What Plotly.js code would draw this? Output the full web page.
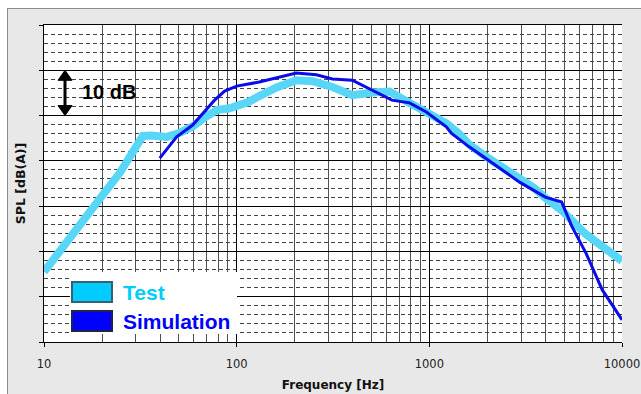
<!DOCTYPE html>
<html>
<head>
<meta charset="utf-8">
<script src="https://cdn.plot.ly/plotly-3.0.1.min.js"></script>
<style>
  html, body { margin: 0; padding: 0; background: #ffffff; }
  #frame { position: absolute; left: 7px; top: 8px; right: 0; bottom: 0;
           background: #e8e8e8; border-left: 1px solid #8c8c8c; border-top: 1px solid #8c8c8c; }
  #chart { position: absolute; left: 0; top: 0; width: 641px; height: 394px; }
</style>
</head>
<body>
<div id="frame"></div>
<div id="chart"></div>
<script>
// ---- data ----
const seriesNames = ['Test', 'Simulation'];

const testFreq = [10, 12.5, 16.7, 20.2, 24.7, 29.6, 32.6, 36, 43.4, 50, 59, 68, 78.7, 92, 100, 115, 131, 161, 204, 248, 314, 398, 507, 621, 758, 965, 1225, 1425, 1610, 1960, 2450, 2940, 3500, 4000, 4860, 6490, 8260, 10000];
const testSPL  = [15.5, 21, 28.5, 32.5, 37.3, 43, 45.5, 45.6, 45.3, 46.1, 47.6, 49.5, 51.2, 51.6, 52, 53, 54.3, 56.2, 57.8, 57.6, 56.3, 54.5, 55.1, 55.3, 53.2, 50.6, 48.3, 46.0, 43.6, 41.0, 38.3, 35.8, 34.0, 31.8, 29.1, 23.8, 20.3, 17.9];

const simFreq = [39.9, 48.8, 59.1, 68.2, 76.8, 86.6, 100, 131, 167, 204, 259, 314, 398, 507, 639, 790, 965, 1225, 1300, 1610, 1960, 2940, 4000, 4860, 5510, 6490, 7900, 10000];
const simSPL  = [40.6, 45.3, 47.9, 50.8, 53.4, 55.4, 56.5, 57.4, 58.5, 59.4, 59.0, 58.1, 57.8, 55.6, 53.4, 52.8, 50.8, 47.5, 46.1, 43.1, 40.6, 35.3, 32.0, 30.9, 25.4, 19.7, 11.5, 4.9];

const xTickVals = [10, 100, 1000, 10000];
const xTickText = ['10', '100', '1000', '10000'];
const xMinorVals = [];
[10, 100, 1000].forEach(d => { for (let k = 2; k <= 9; k++) xMinorVals.push(d * k); });

const xTitle = 'Frequency [Hz]';
const yTitle = 'SPL [dB(A)]';
const scaleLabel = '10 dB';
const scaleFrom = 50, scaleTo = 60;

// ---- geometry helpers (pixels -> paper) ----
const W = 641, H = 394, mL = 44, mR = 19, mT = 25, mB = 52;
const pw = W - mL - mR, ph = H - mT - mB;
const px = x => (x - mL) / pw;
const py = y => (H - mB - y) / ph;

const traces = [
  { x: testFreq, y: testSPL, name: seriesNames[0], type: 'scatter', mode: 'lines',
    line: { color: '#58d6f7', width: 8 } },
  { x: simFreq, y: simSPL, name: seriesNames[1], type: 'scatter', mode: 'lines',
    line: { color: '#0c0ce8', width: 3 } }
];

const ax = 65;           // arrow x in px
const headW = 7, headL = 10; // px
const dbPerPx = 70 / ph;
const shapes = [
  { type: 'line', xref: 'paper', yref: 'y', x0: px(ax), x1: px(ax),
    y0: scaleFrom + headL * dbPerPx * 0.8, y1: scaleTo - headL * dbPerPx * 0.8,
    line: { color: '#000', width: 3 }, layer: 'above' },
  { type: 'path', xref: 'paper', yref: 'y', layer: 'above', fillcolor: '#000', line: { color: '#000', width: 1 },
    path: `M ${px(ax - headW)},${scaleTo - headL * dbPerPx} L ${px(ax)},${scaleTo} L ${px(ax + headW)},${scaleTo - headL * dbPerPx} Z` },
  { type: 'path', xref: 'paper', yref: 'y', layer: 'above', fillcolor: '#000', line: { color: '#000', width: 1 },
    path: `M ${px(ax - headW)},${scaleFrom + headL * dbPerPx} L ${px(ax)},${scaleFrom} L ${px(ax + headW)},${scaleFrom + headL * dbPerPx} Z` },
  { type: 'rect', xref: 'paper', yref: 'paper', x0: px(70), x1: px(237), y0: py(334), y1: py(272),
    fillcolor: '#ffffff', line: { width: 0 }, layer: 'above' },
  { type: 'rect', xref: 'paper', yref: 'paper', x0: px(72), x1: px(112), y0: py(302), y1: py(282),
    fillcolor: '#00ccff', line: { color: '#3a6070', width: 2 }, layer: 'above' },
  { type: 'rect', xref: 'paper', yref: 'paper', x0: px(72), x1: px(112), y0: py(331), y1: py(311),
    fillcolor: '#0000ff', line: { color: '#22224a', width: 2 }, layer: 'above' }
];

const legendFont = { family: 'Liberation Sans, Arial, sans-serif', size: 21, weight: 'bold' };
const annotations = [
  { xref: 'paper', yref: 'y', x: px(80), y: 55.2, xanchor: 'left', yanchor: 'middle', showarrow: false,
    text: scaleLabel, font: { family: 'Liberation Sans, Arial, sans-serif', size: 20, weight: 'bold', color: '#000' } },
  { xref: 'paper', yref: 'paper', x: px(121), y: py(292), xanchor: 'left', yanchor: 'middle', showarrow: false,
    text: seriesNames[0], font: Object.assign({ color: '#00ccff' }, legendFont) },
  { xref: 'paper', yref: 'paper', x: px(121), y: py(321), xanchor: 'left', yanchor: 'middle', showarrow: false,
    text: seriesNames[1], font: Object.assign({ color: '#0000ff' }, legendFont) }
];

const layout = {
  width: W, height: H,
  margin: { l: mL, r: mR, t: mT, b: mB, pad: 0 },
  paper_bgcolor: 'rgba(0,0,0,0)',
  plot_bgcolor: '#ffffff',
  showlegend: false,
  xaxis: {
    type: 'log', range: [1, 4], autorange: false,
    tickmode: 'array', tickvals: xTickVals, ticktext: xTickText,
    ticks: 'outside', ticklen: 4, tickcolor: '#000', tickwidth: 1,
    showgrid: true, gridcolor: '#000', gridwidth: 1,
    minor: { tickmode: 'array', tickvals: xMinorVals, showgrid: true, gridcolor: '#505050', gridwidth: 1, ticks: '' },
    showline: true, linecolor: '#000', linewidth: 1, mirror: true,
    zeroline: false,
    tickfont: { family: 'DejaVu Sans, sans-serif', size: 11.5, color: '#222' },
    ticklabelstandoff: 7,
    title: { text: xTitle, standoff: 10, font: { family: 'DejaVu Sans, sans-serif', size: 12, weight: 'bold', color: '#111' } }
  },
  yaxis: {
    range: [0, 70], autorange: false,
    tickmode: 'linear', tick0: 0, dtick: 10,
    showticklabels: false,
    ticks: 'outside', ticklen: 4, tickcolor: '#000', tickwidth: 1,
    showgrid: true, gridcolor: '#000', gridwidth: 1,
    minor: { dtick: 2, showgrid: true, gridcolor: '#444', gridwidth: 1, griddash: '4px,3px', ticks: '' },
    showline: true, linecolor: '#000', linewidth: 1,
    zeroline: false,
    title: { text: yTitle, standoff: 10, font: { family: 'DejaVu Sans, sans-serif', size: 12.5, weight: 'bold', color: '#111' } }
  },
  shapes: shapes,
  annotations: annotations
};

Plotly.newPlot('chart', traces, layout, { staticPlot: true, displayModeBar: false });
</script>
</body>
</html>
